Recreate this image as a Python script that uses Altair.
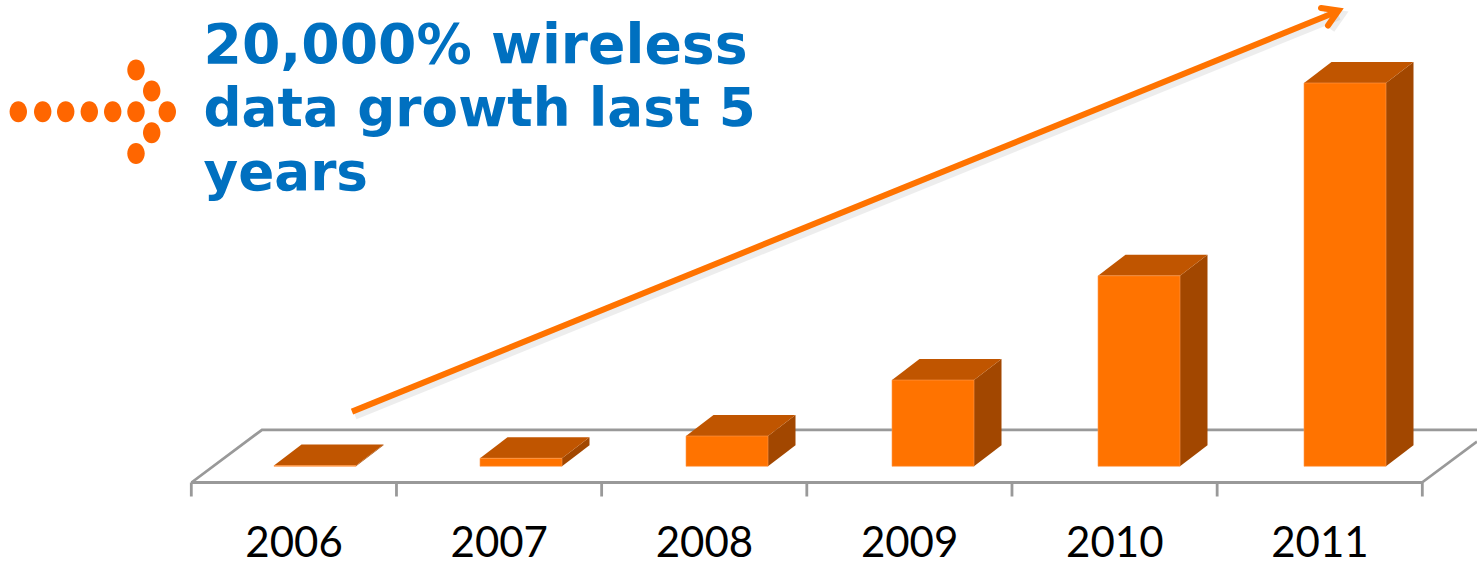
import altair as alt
import pandas as pd

# Wireless data volume per year, indexed so that 2011 = 100
years = [2006, 2007, 2008, 2009, 2010, 2011]
values = [0.2, 2.1, 7.9, 22.5, 49.7, 100.0]
headline = ["20,000% wireless", "data growth last 5", "years"]

W, H = 1477, 563
PX_PER_YEAR = 205.17
PX_PER_UNIT = 3.833
X0_PX, Y0_PX = 191.0, 466.3      # left end of the axis, foot of the bars


def ux(px):
    return 2005.5 + (px - X0_PX) / PX_PER_YEAR


def uy(px):
    return (Y0_PX - px) / PX_PER_UNIT


x_scale = alt.Scale(domain=[ux(0), ux(W)], range=[0, W], nice=False, zero=False, clamp=False)
y_scale = alt.Scale(domain=[uy(H), uy(0)], range=[H, 0], nice=False, zero=False)
X = lambda f: alt.X(f, type="quantitative", scale=x_scale, axis=None)
Y = lambda f: alt.Y(f, type="quantitative", scale=y_scale, axis=None, stack=None)
Y2 = lambda f: alt.Y2(f)

# Box geometry: the boxes sit on the floor at a slightly wider pitch than the axis
box_start_px = 274.0
box_pitch_px = 206.0
box_w_px = 82.0
depth_x = 27.5 / PX_PER_YEAR
depth_y = 21 / PX_PER_UNIT

front_rows, top_rows, side_rows = [], [], []
for i, (yr, v) in enumerate(zip(years, values)):
    l = ux(box_start_px + i * box_pitch_px)
    r = ux(box_start_px + i * box_pitch_px + box_w_px)
    front_rows.append(dict(l=l, r=r, v=v, base=0.0))
    top_rows += [
        dict(year=yr, x=l, hi=v, lo=v),
        dict(year=yr, x=l + depth_x, hi=v + depth_y, lo=v),
        dict(year=yr, x=r, hi=v + depth_y, lo=v),
        dict(year=yr, x=r + depth_x, hi=v + depth_y, lo=v + depth_y),
    ]
    side_rows += [
        dict(year=yr, x=r, hi=v, lo=0.0),
        dict(year=yr, x=r + depth_x, hi=v + depth_y, lo=depth_y),
    ]

front = (
    alt.Chart(pd.DataFrame(front_rows))
    .mark_rect(color="#FF7300", stroke="#FF9A4D", strokeWidth=0.6)
    .encode(x=X("l"), x2=alt.X2("r"), y=Y("v"), y2=Y2("base"))
)
top = (
    alt.Chart(pd.DataFrame(top_rows))
    .mark_area(color="#C05500", interpolate="linear")
    .encode(x=X("x"), y=Y("hi"), y2=Y2("lo"), detail="year:N")
)
side = (
    alt.Chart(pd.DataFrame(side_rows))
    .mark_area(color="#A24700", interpolate="linear")
    .encode(x=X("x"), y=Y("hi"), y2=Y2("lo"), detail="year:N")
)

# Polylines, given in canvas pixels and converted to the chart's units
def polylines(segments):
    rows = []
    for s, pts in enumerate(segments):
        for i, (px, py) in enumerate(pts):
            rows.append(dict(seg=s, i=i, x=ux(px), y=uy(py)))
    return pd.DataFrame(rows)


def line_layer(segments, **style):
    return (
        alt.Chart(polylines(segments))
        .mark_line(**style)
        .encode(x=X("x"), y=Y("y"), detail="seg:N", order=alt.Order("i:Q"))
    )


# Perspective floor: back edge and sides behind the bars, front edge and ticks
floor_back = line_layer(
    [[(191.5, 482.5), (262, 429.8), (W, 429.8)], [(1422, 482.5), (W, 441.5)]],
    color="#999999", strokeWidth=2.8,
)
tick_px = [X0_PX + 0.3 + i * PX_PER_YEAR for i in range(len(years) + 1)]
floor_front = line_layer(
    [[(191, 482.5), (1423, 482.5)]] + [[(t, 482.5), (t, 496.5)] for t in tick_px],
    color="#999999", strokeWidth=2.8,
)

year_labels = (
    alt.Chart(pd.DataFrame({"year": years, "label": [str(y) for y in years], "py": [uy(556.5)] * 6}))
    .mark_text(font="Lato", fontSize=42, color="#000000", align="center", baseline="alphabetic", dx=0.5)
    .encode(x=X("year"), y=Y("py"), text="label:N")
)

# Trend arrow with its soft shadow
shaft = [(352, 411.6), (1336, 12)]
head = [(1321, 8), (1338.5, 10.5), (1328, 25.5)]
shadow_shift = lambda pts: [(a + 3, b + 4) for a, b in pts]
arrow_shadow = line_layer(
    [shadow_shift(shaft), shadow_shift(head)], color="#808080", strokeWidth=8, opacity=0.14
)
arrow_shaft = line_layer([shaft], color="#FF7300", strokeWidth=6)
arrow_head = line_layer([head], color="#FF7300", strokeWidth=6, strokeCap="round", strokeJoin="miter")

# Dotted pointer beside the headline
dot_px = [
    (18.3, 111.7), (42.7, 111.7), (65.7, 111.7), (89.3, 111.7), (112.7, 111.7),
    (136, 111.7), (167.3, 111.7), (136, 70), (151.7, 91), (151.7, 132.7), (136, 153.5),
]
dots = (
    alt.Chart(pd.DataFrame({"x": [ux(a) for a, _ in dot_px], "y": [uy(b) for _, b in dot_px]}))
    .mark_point(
        shape="M-0.83,0A0.83,1,0,1,1,0.83,0A0.83,1,0,1,1,-0.83,0Z",
        filled=True, size=441, color="#FF6600", opacity=1,
    )
    .encode(x=X("x"), y=Y("y"))
)

headline_df = pd.DataFrame({
    "text": headline,
    "x": [ux(203.5)] * 3,
    "y": [uy(63), uy(126), uy(190)],
    "fs": [55.2, 53.2, 53.2],
})
headline_text = (
    alt.Chart(headline_df)
    .mark_text(font="DejaVu Sans", fontWeight="bold", color="#0070C0",
               align="left", baseline="alphabetic")
    .encode(x=X("x"), y=Y("y"), text="text:N", size=alt.Size("fs:Q", scale=None, legend=None))
)

chart = (
    alt.layer(
        floor_back, floor_front, side, top, front, year_labels,
        arrow_shadow, arrow_shaft, arrow_head, dots, headline_text,
    )
    .properties(width=W, height=H, padding=0, autosize=alt.AutoSizeParams(type="none"), background="white")
    .configure_view(stroke=None)
)

chart.save("out.html", embed_options={"renderer": "svg", "actions": False})
